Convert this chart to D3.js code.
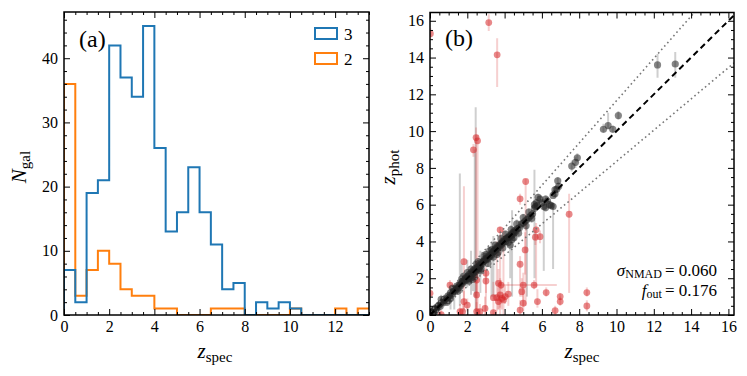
<!DOCTYPE html>
<html>
<head>
<meta charset="utf-8">
<script src="https://cdn.jsdelivr.net/npm/d3@7"></script>
<style>
  body { margin: 0; background: #fff; }
  svg, svg text { font-family: "Liberation Serif", "Times New Roman", Times, "DejaVu Serif", serif; }
  .tick text { font-size: 16px; fill: #000; }
  .tick line { stroke: #000; stroke-width: 1; }
</style>
</head>
<body>
<svg id="fig" width="747" height="376"></svg>
<script>
// histogram (a): counts per 0.5 bin from z=0
const binWidth = 0.5;
const countsN3 = [7, 2, 19, 21, 42, 37, 34, 45, 26, 13, 16, 23, 16, 11, 4, 5, 0, 2, 1, 2, 1, 0, 0, 0, 0, 0, 0, 0];
const countsN2 = [36, 3, 7, 10, 8, 4, 3, 3, 1, 1, 0, 0, 0, 1, 1, 1, 0, 0, 0, 0, 1, 0, 0, 0, 1, 0, 1, 1];
const histLabels = ["3", "2"];
const histTicksX = [0, 2, 4, 6, 8, 10, 12];
const histTicksY = [0, 10, 20, 30, 40];

// scatter (b): good fits [zspec, zphot, low end, high end of error bar]
const goodSpec = [0.05, 0.08, 0.1, 0.12, 0.15, 0.18, 0.2, 0.22, 0.25, 0.3, 0.32, 0.35, 0.4, 0.45, 0.5, 0.55, 0.6, 0.7, 0.75, 0.8, 0.9, 1.0, 1.05, 1.1, 1.2, 1.25, 1.3, 1.35, 1.4, 1.45, 1.5, 1.55, 1.6, 1.65, 1.7, 1.75, 1.8, 1.85, 1.9, 1.95, 2.0, 2.05, 2.1, 2.15, 2.2, 2.25, 2.3, 2.35, 2.4, 2.42, 2.45, 2.5, 2.55, 2.6, 2.65, 2.7, 2.75, 2.8, 2.85, 2.9, 2.95, 3.0, 3.05, 3.1, 3.15, 3.2, 3.25, 3.3, 3.35, 3.4, 3.45, 3.5, 3.55, 3.6, 3.65, 3.7, 3.75, 3.8, 3.85, 3.9, 3.95, 4.0, 4.05, 4.1, 4.15, 4.2, 4.25, 4.3, 4.35, 4.4, 4.45, 4.5, 4.55, 4.6, 4.7, 4.8, 4.9, 5.0, 5.1, 5.2, 5.3, 5.4, 5.5, 5.6, 5.65, 5.7, 5.75, 5.8, 5.9, 6.0, 6.1, 6.2, 6.3, 6.4, 6.5, 6.6, 6.7, 6.8, 6.9, 6.85, 7.6, 7.8, 7.9, 9.3, 9.55, 9.8, 10.1, 12.2, 13.15, 2.3, 2.0, 1.1, 4.3, 3.3, 2.7, 1.7,
  1.5, 1.8, 2.1, 2.2, 2.4, 2.6, 2.75, 2.9, 3.1, 3.2, 3.4, 3.5, 3.65, 3.8, 3.9, 4.05, 4.2, 4.35, 4.5, 4.65, 4.75, 5.0, 5.15, 5.3, 5.45, 1.2, 1.0, 0.6, 0.9, 2.5, 3.0, 3.6, 2.2, 4.4, 5.6, 6.7, 6.2, 6.6];
const goodPhot = [0.1, 0.02, 0.15, 0.05, 0.2, 0.1, 0.25, 0.3, 0.18, 0.35, 0.28, 0.42, 0.38, 0.5, 0.55, 0.48, 0.65, 0.72, 0.85, 0.78, 0.95, 1.05, 0.98, 1.2, 1.15, 1.3, 1.4, 1.28, 1.5, 1.42, 1.6, 1.5, 1.7, 1.62, 1.8, 1.72, 1.9, 1.85, 2.0, 1.92, 2.1, 2.0, 2.2, 2.1, 2.3, 2.22, 2.4, 2.3, 2.5, 2.35, 2.55, 2.45, 2.6, 2.5, 2.7, 2.65, 2.85, 2.78, 2.9, 2.95, 3.05, 3.0, 3.1, 3.05, 3.2, 3.15, 3.3, 3.25, 3.4, 3.45, 3.5, 3.6, 3.55, 3.7, 3.65, 3.8, 3.75, 3.9, 3.85, 4.0, 3.95, 4.1, 4.0, 4.15, 4.2, 4.2, 4.3, 4.25, 4.4, 4.35, 4.5, 4.45, 4.6, 4.55, 4.7, 4.75, 4.95, 5.0, 5.1, 5.2, 5.3, 5.4, 5.5, 6.0, 5.9, 6.1, 5.95, 6.4, 6.3, 6.1, 5.9, 6.3, 6.2, 6.0, 5.95, 6.5, 6.8, 6.85, 7.0, 7.3, 8.1, 8.3, 8.55, 10.1, 10.3, 10.1, 10.85, 13.6, 13.65, 1.95, 2.3, 0.9, 3.8, 3.55, 2.4, 1.95,
  1.3, 2.1, 1.85, 2.5, 2.1, 2.9, 2.5, 3.2, 2.8, 3.5, 3.15, 3.8, 3.4, 4.15, 3.65, 4.4, 3.95, 4.65, 4.2, 4.95, 4.45, 5.3, 4.85, 5.6, 5.25, 1.45, 0.8, 0.85, 0.7, 2.8, 3.3, 3.3, 1.95, 4.1, 5.8, 6.6, 5.85, 5.9];
const goodLo = [0, 0, 0, 0, 0, 0, 0.1, 0.1, 0, 0.2, 0.1, 0.2, 0.2, 0.3, 0.3, 0.3, 0.4, 0.5, 0.6, 0.6, 0.7, 0.8, 0.8, 0.9, 0.9, 1.0, 0.3, 1.0, 1.2, 1.2, 1.3, 1.2, 0.5, 1.4, 1.5, 1.4, 1.6, 1.6, 1.7, 1.6, 1.8, 1.7, 1.9, 1.8, 1.1, 1.9, 2.1, 2.0, 1.0, 2.1, 0, 2.2, 2.3, 2.2, 2.4, 2.4, 2.6, 2.5, 2.7, 2.7, 2.8, 2.8, 2.9, 2.8, 3.0, 2.9, 3.1, 3.0, 3.2, 1.0, 3.3, 3.4, 3.3, 3.5, 3.4, 3.6, 3.5, 3.7, 3.6, 3.8, 3.7, 3.9, 3.8, 3.9, 4.0, 4.0, 4.1, 4.0, 4.2, 1.0, 4.3, 4.2, 4.4, 4.3, 4.5, 4.5, 4.7, 4.8, 4.9, 1.0, 5.1, 5.2, 5.3, 2.0, 5.7, 5.9, 5.8, 6.2, 6.1, 5.9, 2.4, 6.1, 6.0, 5.8, 5.8, 2.5, 6.6, 6.7, 6.8, 7.1, 7.8, 8.0, 8.3, 9.9, 10.1, 9.9, 10.6, 12.9, 12.9, 1.3, 1.5, 0.3, 2.0, 1.0, 1.2, 1.2,
  1.1, 1.9, 1.6, 2.3, 1.9, 2.7, 2.3, 3.0, 2.6, 3.3, 2.9, 3.6, 3.2, 3.9, 3.4, 4.2, 3.7, 4.4, 4.0, 4.7, 4.2, 5.1, 4.6, 5.4, 5.0, 1.2, 0.6, 0.6, 0.5, 2.6, 3.1, 3.1, 1.7, 3.9, 5.6, 6.4, 5.6, 5.7];
const goodHi = [0.3, 0.2, 0.3, 0.2, 0.4, 0.3, 0.4, 0.5, 0.4, 0.5, 0.5, 0.6, 0.6, 0.7, 0.8, 0.7, 0.9, 0.9, 1.1, 1.0, 1.2, 1.3, 1.2, 1.4, 1.4, 1.5, 1.6, 1.5, 1.7, 1.6, 1.8, 1.7, 7.7, 1.8, 2.0, 1.9, 2.1, 2.1, 2.2, 2.1, 2.3, 2.2, 2.4, 2.3, 3.5, 2.4, 2.6, 2.5, 9.0, 2.6, 11.3, 2.7, 2.8, 2.7, 2.9, 2.9, 3.1, 3.0, 3.1, 3.2, 3.3, 3.2, 3.3, 3.3, 3.4, 3.4, 3.5, 3.5, 3.6, 4.3, 3.7, 3.8, 3.8, 3.9, 3.9, 4.0, 4.0, 4.1, 4.1, 4.2, 4.2, 4.3, 4.2, 4.4, 4.4, 4.4, 4.5, 4.5, 4.6, 5.7, 4.7, 4.7, 4.8, 4.8, 4.9, 5.0, 5.2, 5.2, 5.3, 5.4, 5.5, 5.6, 5.7, 7.9, 6.1, 6.3, 6.1, 6.6, 6.5, 6.3, 6.2, 6.5, 6.4, 6.2, 6.1, 6.1, 7.0, 7.0, 7.2, 7.5, 8.4, 8.6, 8.8, 10.4, 11.0, 10.3, 11.1, 14.2, 14.3, 2.5, 3.0, 1.2, 4.5, 4.0, 3.5, 2.8,
  1.5, 2.3, 2.1, 2.7, 2.3, 3.1, 2.7, 3.4, 3.0, 3.7, 3.4, 4.0, 3.6, 4.4, 3.9, 4.6, 4.2, 4.9, 4.4, 5.2, 4.7, 5.5, 5.1, 5.8, 5.5, 1.7, 1.0, 1.1, 0.9, 3.0, 3.5, 3.5, 2.2, 4.3, 6.0, 6.8, 6.1, 6.1];

// catastrophic outliers
const outSpec = [0.02, 3.15, 3.6, 2.33, 2.47, 2.55, 5.13, 4.83, 5.69, 5.65, 5.9, 7.46, 3.76, 5.1, 4.83, 3.0, 3.0, 2.5, 1.82, 1.07, 3.67, 3.81, 5.58, 6.23, 5.0, 4.92, 3.58, 3.76, 3.94, 3.67, 3.4, 4.03, 2.5, 2.0, 1.61, 1.75, 1.82, 2.5, 2.68, 2.95, 3.4, 5.0, 4.83, 5.76, 6.98, 6.98, 8.41, 8.41, 6.71, 0.0, 4.2, 3.85, 0.6];
const outPhot = [15.3, 15.9, 14.15, 8.98, 9.65, 9.47, 7.26, 6.32, 4.63, 4.23, 4.26, 5.48, 4.63, 3.54, 2.76, 2.27, 1.85, 1.9, 2.9, 1.63, 1.72, 1.63, 1.63, 1.22, 1.63, 1.27, 0.94, 1.09, 0.82, 0.73, 0.94, 1.0, 1.09, 0.54, 0.18, 0.18, 0.73, 0.18, 0.18, 0.36, 0.13, 0.64, 0.27, 0.73, 1.0, 0.73, 1.22, 0.49, 0.24, 1.18, 1.14, 0.9, 0.02];
const outLo = [15.0, 15.45, 12.4, 8.6, 0.2, 0.0, 0.5, 6.0, 1.5, 3.8, 3.9, 1.2, 0.0, 2.2, 1.0, 1.2, 0.0, 1.2, 0.2, 1.4, 0.3, 1.4, 1.4, 1.0, 0.5, 1.0, 0.2, 0.4, 0.0, 0.3, 0.5, 0.6, 0.2, 0.2, 0.0, 0.0, 0.3, 0.0, 0.0, 0.0, 0.0, 0.2, 0.0, 0.4, 0.8, 0.5, 1.0, 0.2, 0.0, 0.9, 0.5, 0.3, 0.0];
const outHi = [15.6, 16.35, 15.05, 9.3, 10.2, 9.8, 7.4, 6.6, 5.0, 4.6, 4.6, 6.6, 4.8, 4.5, 3.2, 2.6, 2.5, 2.8, 7.0, 1.9, 2.5, 1.9, 1.9, 1.5, 2.3, 2.0, 4.0, 2.0, 4.7, 1.5, 1.8, 1.6, 2.2, 0.9, 0.6, 0.6, 1.3, 0.7, 0.6, 1.0, 0.5, 1.5, 0.8, 1.4, 1.2, 1.0, 1.5, 0.8, 0.5, 1.5, 1.8, 1.6, 0.3];
// horizontal error bar on one outlier: [zspec, zphot, left, right]
const outXErr = [[3.81, 1.63, 3.8, 6.8]];

const scatterTicks = [0, 2, 4, 6, 8, 10, 12, 14, 16];
const outlierCut = 0.15;
const statsSigma = "0.060";
const statsFout = "0.176";

const svg = d3.select("#fig");

function drawAxes(g, x, y, major, minorStepX, majorY, minorStepY, xMax, yMax) {
  const [r0, r1] = x.range();
  const [b, t] = y.range();
  const minorX = d3.range(0, xMax + 1e-9, minorStepX).filter(v => !major.includes(v));
  const minorY = d3.range(0, yMax + 1e-9, minorStepY).filter(v => !majorY.includes(v));

  const axes = [
    [d3.axisBottom(x).tickValues(major).tickFormat(d3.format("d")), `translate(0,${b})`, true],
    [d3.axisTop(x).tickValues(major).tickFormat(""), `translate(0,${t})`, true],
    [d3.axisBottom(x).tickValues(minorX).tickFormat(""), `translate(0,${b})`, false],
    [d3.axisTop(x).tickValues(minorX).tickFormat(""), `translate(0,${t})`, false],
    [d3.axisLeft(y).tickValues(majorY).tickFormat(d3.format("d")), `translate(${r0},0)`, true],
    [d3.axisRight(y).tickValues(majorY).tickFormat(""), `translate(${r1},0)`, true],
    [d3.axisLeft(y).tickValues(minorY).tickFormat(""), `translate(${r0},0)`, false],
    [d3.axisRight(y).tickValues(minorY).tickFormat(""), `translate(${r1},0)`, false]
  ];
  axes.forEach(([ax, tr, isMajor]) => {
    g.append("g").attr("transform", tr)
      .call(ax.tickSize(isMajor ? -6 : -3).tickPadding(6))
      .call(s => s.select(".domain").remove())
      .attr("font-family", null)
      .attr("font-size", null);
  });

  g.append("rect")
    .attr("x", r0).attr("y", t)
    .attr("width", r1 - r0).attr("height", b - t)
    .attr("fill", "none").attr("stroke", "#000").attr("stroke-width", 1.5);
}

function subLabel(g, x, y, main, sub, rotate) {
  const t = g.append("text")
    .attr("transform", `translate(${x},${y})` + (rotate ? " rotate(-90)" : ""))
    .attr("text-anchor", "middle")
    .attr("font-size", 21);
  t.append("tspan").attr("font-style", "italic").text(main);
  t.append("tspan").attr("font-size", 15).attr("dy", 4).text(sub);
}

// ---------- panel (a) ----------
{
  const x = d3.scaleLinear().domain([0, 13.5]).range([64, 369]);
  const y = d3.scaleLinear().domain([0, 47.2]).range([315, 12]);
  const g = svg.append("g");

  g.append("clipPath").attr("id", "clipA")
    .append("rect").attr("x", 64).attr("y", 12).attr("width", 305).attr("height", 303);

  const stepPts = counts => {
    const pts = [[0, 0]];
    counts.forEach((c, i) => {
      pts.push([i * binWidth, c]);
      pts.push([(i + 1) * binWidth, c]);
    });
    pts.push([counts.length * binWidth, 0]);
    return pts;
  };
  const line = d3.line().x(d => x(d[0])).y(d => y(d[1]));

  const series = [
    { counts: countsN2, color: "#ff7f0e" },
    { counts: countsN3, color: "#1f77b4" }
  ];
  g.append("g").attr("clip-path", "url(#clipA)")
    .selectAll("path").data(series).join("path")
    .attr("d", d => line(stepPts(d.counts)))
    .attr("fill", "none")
    .attr("stroke", d => d.color)
    .attr("stroke-width", 2)
    .attr("stroke-linejoin", "miter");

  drawAxes(g, x, y, histTicksX, 0.5, histTicksY, 2, 13.5, 47.2);

  // legend
  const leg = g.append("g");
  [["#1f77b4", histLabels[0], 28], ["#ff7f0e", histLabels[1], 53]].forEach(([c, lab, yy]) => {
    leg.append("rect").attr("x", 315).attr("y", yy).attr("width", 22).attr("height", 11)
      .attr("fill", "none").attr("stroke", c).attr("stroke-width", 2);
    leg.append("text").attr("x", 344).attr("y", yy + 12).attr("font-size", 17).text(lab);
  });

  g.append("text").attr("x", 79).attr("y", 47).attr("font-size", 24).text("(a)");
  subLabel(g, 215, 358, "z", "spec", false);
  subLabel(g, 26, 167, "N", "gal", true);
}

// ---------- panel (b) ----------
{
  const x = d3.scaleLinear().domain([0, 16.3]).range([430, 734]);
  const y = d3.scaleLinear().domain([0, 16.45]).range([315, 12.5]);
  const g = svg.append("g");

  g.append("clipPath").attr("id", "clipB")
    .append("rect").attr("x", 430).attr("y", 12.5).attr("width", 304).attr("height", 302.5);
  const plot = g.append("g").attr("clip-path", "url(#clipB)");

  const good = goodSpec.map((s, i) => ({ s, p: goodPhot[i], lo: goodLo[i], hi: goodHi[i] }));
  const bad = outSpec.map((s, i) => ({ s, p: outPhot[i], lo: outLo[i], hi: outHi[i] }));

  // error bars
  plot.append("g").selectAll("line").data(good).join("line")
    .attr("x1", d => x(d.s)).attr("x2", d => x(d.s))
    .attr("y1", d => y(d.lo)).attr("y2", d => y(d.hi))
    .attr("stroke", "#888").attr("stroke-opacity", 0.4).attr("stroke-width", 2);
  plot.append("g").selectAll("line").data(bad).join("line")
    .attr("x1", d => x(d.s)).attr("x2", d => x(d.s))
    .attr("y1", d => y(d.lo)).attr("y2", d => y(d.hi))
    .attr("stroke", "#d62728").attr("stroke-opacity", 0.22).attr("stroke-width", 2);
  plot.append("g").selectAll("line").data(outXErr).join("line")
    .attr("x1", d => x(d[2])).attr("x2", d => x(d[3]))
    .attr("y1", d => y(d[1])).attr("y2", d => y(d[1]))
    .attr("stroke", "#d62728").attr("stroke-opacity", 0.22).attr("stroke-width", 2);

  // points
  plot.append("g").selectAll("circle").data(bad).join("circle")
    .attr("cx", d => x(d.s)).attr("cy", d => y(d.p)).attr("r", 3.4)
    .attr("fill", "#d62728").attr("fill-opacity", 0.55);
  plot.append("g").selectAll("circle").data(good).join("circle")
    .attr("cx", d => x(d.s)).attr("cy", d => y(d.p)).attr("r", 3.6)
    .attr("fill", "#222").attr("fill-opacity", 0.55);

  // one-to-one and outlier boundaries
  const zs = [0, 16.3];
  const ln = d3.line().x(d => x(d[0])).y(d => y(d[1]));
  plot.append("path").attr("d", ln(zs.map(z => [z, z + outlierCut * (1 + z)])))
    .attr("stroke", "#777").attr("stroke-width", 1.6).attr("stroke-dasharray", "1.6,3").attr("fill", "none");
  plot.append("path").attr("d", ln(zs.map(z => [z, z - outlierCut * (1 + z)])))
    .attr("stroke", "#777").attr("stroke-width", 1.6).attr("stroke-dasharray", "1.6,3").attr("fill", "none");
  plot.append("path").attr("d", ln(zs.map(z => [z, z])))
    .attr("stroke", "#000").attr("stroke-width", 2).attr("stroke-dasharray", "6,4").attr("fill", "none");

  drawAxes(g, x, y, scatterTicks, 0.5, scatterTicks, 0.5, 16.3, 16.45);

  g.append("text").attr("x", 445).attr("y", 46).attr("font-size", 24).text("(b)");
  subLabel(g, 582, 358, "z", "spec", false);
  subLabel(g, 395, 167, "z", "phot", true);

  const st = g.append("g").attr("font-size", 17).attr("text-anchor", "end");
  const t1 = st.append("text").attr("x", 717).attr("y", 276);
  t1.append("tspan").attr("font-style", "italic").text("σ");
  t1.append("tspan").attr("font-size", 12).attr("dy", 2).text("NMAD");
  t1.append("tspan").attr("dy", -2).attr("dx", 3).text("= " + statsSigma);
  const t2 = st.append("text").attr("x", 717).attr("y", 296);
  t2.append("tspan").attr("font-style", "italic").text("f");
  t2.append("tspan").attr("font-size", 12).attr("dy", 2).text("out");
  t2.append("tspan").attr("dy", -2).attr("dx", 3).text("= " + statsFout);
}
</script>
</body>
</html>
